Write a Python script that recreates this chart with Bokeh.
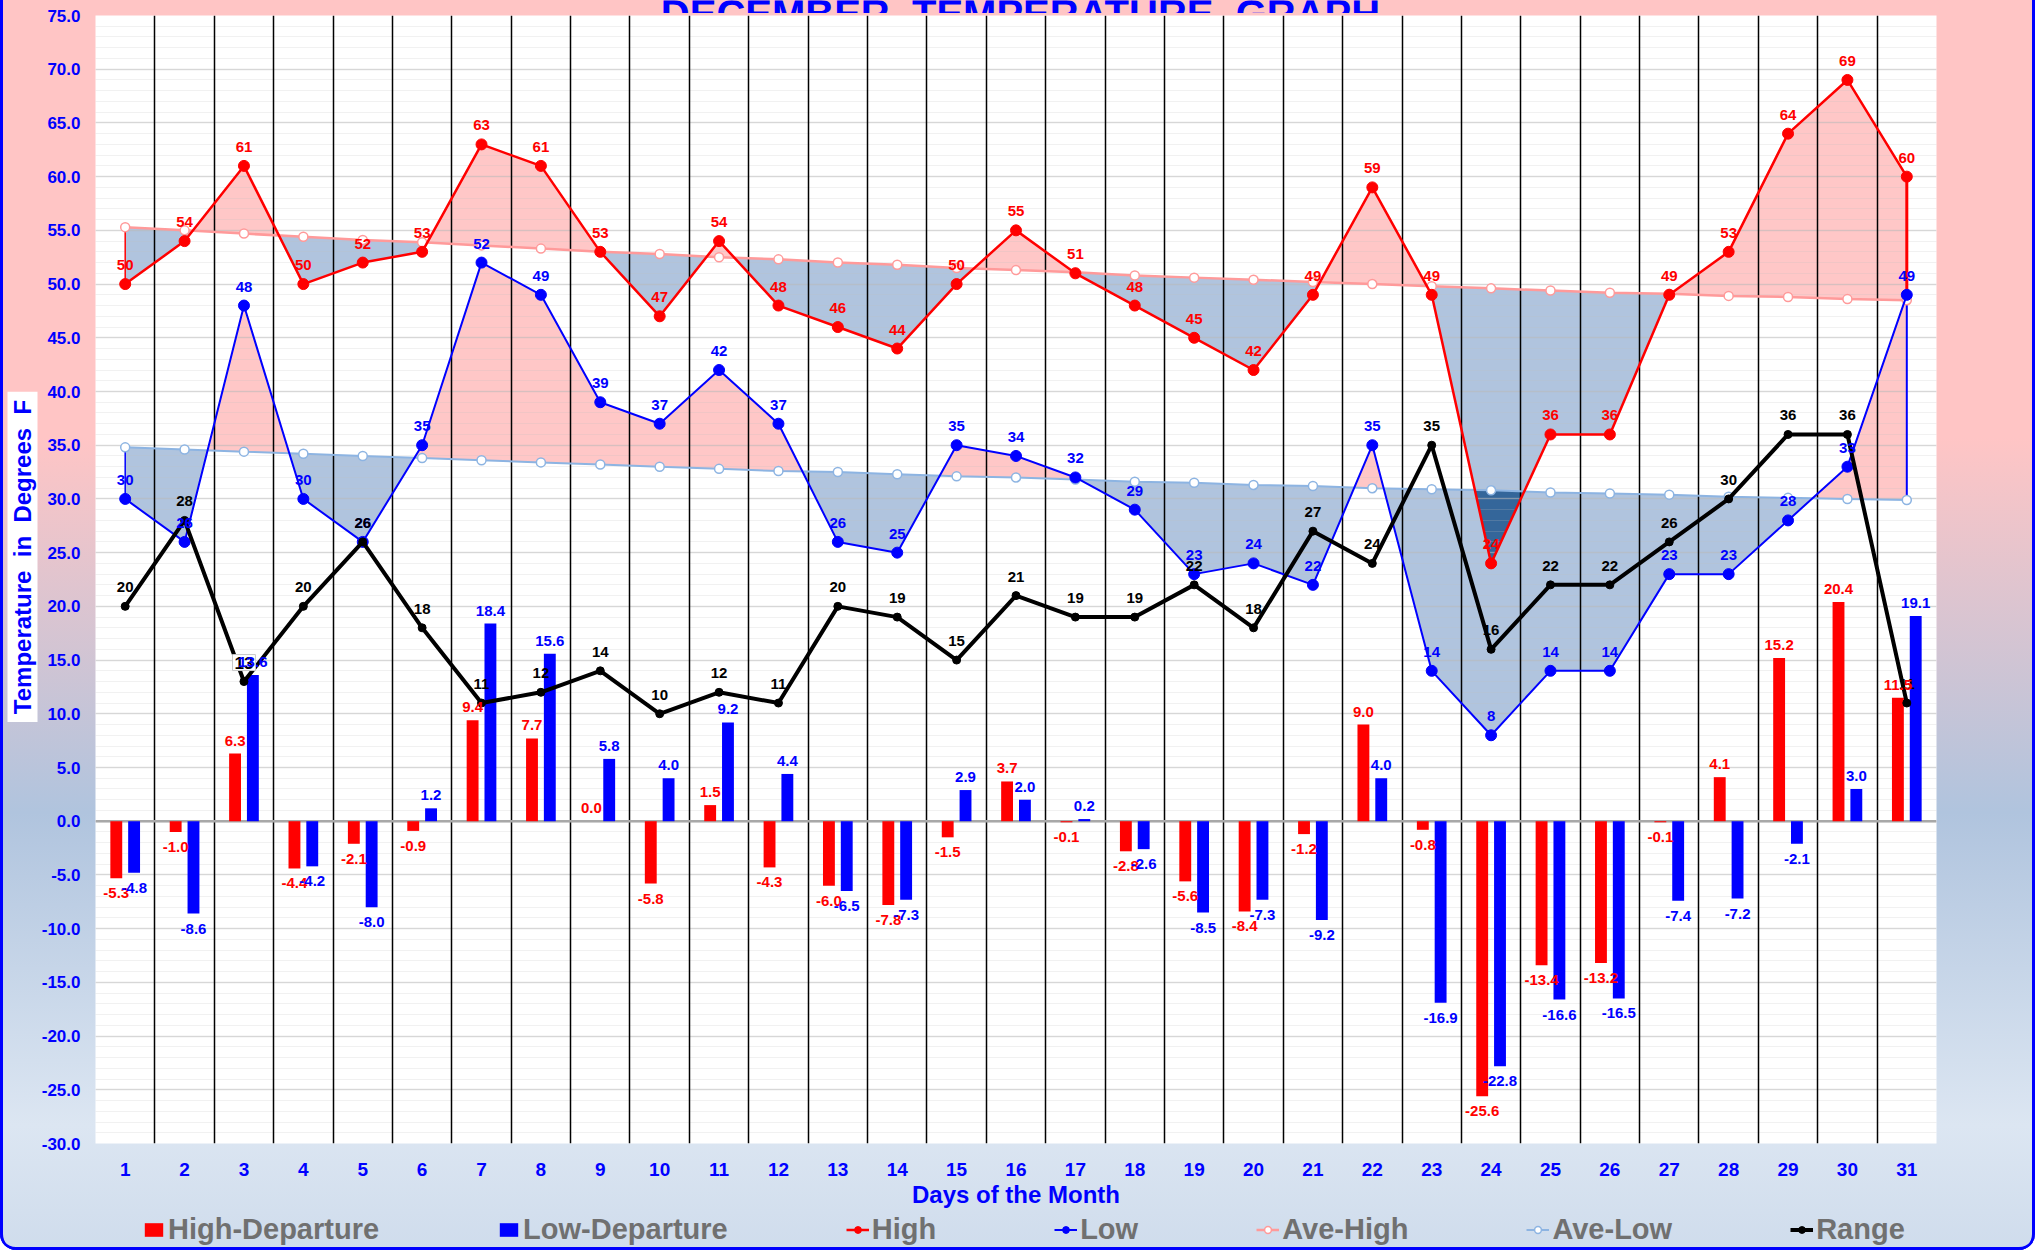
import numpy as np
from bokeh.plotting import figure
from bokeh.layouts import column
from bokeh.models import (ColumnDataSource, Legend, LegendItem, FixedTicker, Range1d,
                          SingleIntervalTicker, NumeralTickFormatter, Span)
from bokeh.core.properties import value
from bokeh.embed import file_html
from bokeh.resources import INLINE

# ---------------- data ----------------
days = list(range(1, 32))
high = [50, 54, 61, 50, 52, 53, 63, 61, 53, 47, 54, 48, 46, 44, 50, 55, 51, 48, 45, 42,
        49, 59, 49, 24, 36, 36, 49, 53, 64, 69, 60]
low = [30, 26, 48, 30, 26, 35, 52, 49, 39, 37, 42, 37, 26, 25, 35, 34, 32, 29, 23, 24,
       22, 35, 14, 8, 14, 14, 23, 23, 28, 33, 49]
ave_high = [55.3, 55.0, 54.7, 54.4, 54.1, 53.9, 53.6, 53.3, 53.0, 52.8, 52.5, 52.3, 52.0,
            51.8, 51.5, 51.3, 51.1, 50.8, 50.6, 50.4, 50.2, 50.0, 49.8, 49.6, 49.4, 49.2,
            49.1, 48.9, 48.8, 48.6, 48.5]
ave_low = [34.8, 34.6, 34.4, 34.2, 34.0, 33.8, 33.6, 33.4, 33.2, 33.0, 32.8, 32.6, 32.5,
           32.3, 32.1, 32.0, 31.8, 31.6, 31.5, 31.3, 31.2, 31.0, 30.9, 30.8, 30.6, 30.5,
           30.4, 30.2, 30.1, 30.0, 29.9]
temp_range = [20, 28, 13, 20, 26, 18, 11, 12, 14, 10, 12, 11, 20, 19, 15, 21, 19, 19, 22,
              18, 27, 24, 35, 16, 22, 22, 26, 30, 36, 36, 11]
high_dep = [-5.3, -1.0, 6.3, -4.4, -2.1, -0.9, 9.4, 7.7, 0.0, -5.8, 1.5, -4.3, -6.0, -7.8,
            -1.5, 3.7, -0.1, -2.8, -5.6, -8.4, -1.2, 9.0, -0.8, -25.6, -13.4, -13.2, -0.1,
            4.1, 15.2, 20.4, 11.5]
low_dep = [-4.8, -8.6, 13.6, -4.2, -8.0, 1.2, 18.4, 15.6, 5.8, 4.0, 9.2, 4.4, -6.5, -7.3,
           2.9, 2.0, 0.2, -2.6, -8.5, -7.3, -9.2, 4.0, -16.9, -22.8, -16.6, -16.5, -7.4,
           -7.2, -2.1, 3.0, 19.1]
y_ticks_step = 5
title_text = "DECEMBER \u00a0TEMPERATURE \u00a0GRAPH"
y_title = "Temperature \u00a0in \u00a0Degrees \u00a0F"
x_title = "Days of the Month"
legend_labels = ["High-Departure", "Low-Departure", "High", "Low", "Ave-High", "Ave-Low", "Range"]
boxed_range_day = 3

FONT = "Liberation Sans"
PINK = "#ffc7c7"
LBLUE = "#b0c4de"
DARK = "#34669a"
RED = "#ff0000"
BLUE = "#0000ff"
AH_COL = "#ff9a9a"
AL_COL = "#8db4e2"
TOTAL_W = 2035
TITLE_H = 13
FRAME_W = 1841
FRAME_H = 1128
TOP = 15
LEFT = 95
BOTTOM = 80
P_H = TOP + FRAME_H + BOTTOM
YBOX = (7, 391, 30, 331)      # left, top, width, height of the y-title box
LEG_TOP = 1210
LEG_H = 40
LEG_X = 142

d = np.array(days, float)
H = np.array(high, float)
AH = np.array(ave_high, float)
L = np.array(low, float)
AL = np.array(ave_low, float)

# breakpoints for the fills (data points plus line crossings)
series = [H, AH, L, AL]
xs = []
for i in range(len(d) - 1):
    xs.append(d[i])
    ts = []
    for a in range(4):
        for b in range(a + 1, 4):
            g0 = series[a][i] - series[b][i]
            g1 = series[a][i + 1] - series[b][i + 1]
            if g0 * g1 < 0:
                ts.append(g0 / (g0 - g1))
    for t in sorted(ts):
        xs.append(d[i] + t * (d[i + 1] - d[i]))
xs.append(d[-1])
xx = np.array(xs)
h = np.interp(xx, d, H)
ah = np.interp(xx, d, AH)
lo = np.interp(xx, d, L)
al = np.interp(xx, d, AL)

# ---------------- main chart ----------------
p = figure(frame_width=FRAME_W, frame_height=FRAME_H, min_border_left=LEFT,
           min_border_right=TOTAL_W - LEFT - FRAME_W,
           min_border_top=TOP, min_border_bottom=BOTTOM,
           x_range=(0.5, 31.5), y_range=(-30, 75),
           output_backend="svg", toolbar_location=None)
HAS_FA = "frame_align" in p.properties()
if HAS_FA:
    p.frame_align = False
p.background_fill_color = "white"
p.border_fill_color = None
p.outline_line_color = None
p.margin = (-TITLE_H, 0, 0, 0)

def strip(hgt):
    f = figure(width=TOTAL_W, height=hgt, x_range=Range1d(0, TOTAL_W), y_range=Range1d(0, hgt),
               min_border=0, x_axis_type=None, y_axis_type=None,
               output_backend="svg", toolbar_location=None)
    if HAS_FA:
        f.frame_align = False
    f.background_fill_color = None
    f.border_fill_color = None
    f.outline_line_color = None
    f.grid.visible = False
    return f

# ---------------- title strip (its top half is cut off, as in the original) ----------------
tfig = strip(TITLE_H)
tfig.text(x=[1020], y=[0], text=[title_text], text_font=value(FONT), text_font_style="bold",
          text_font_size="40px", text_color=BLUE, text_align="center",
          text_baseline="alphabetic")

fills = [
    (ah, np.maximum(h, ah), PINK),
    (np.minimum(h, ah), ah, LBLUE),
    (al, np.maximum(lo, al), PINK),
    (np.minimum(lo, al), al, LBLUE),
]
for y1, y2, c in fills:
    r = p.varea(x=xx, y1=y1, y2=y2, fill_color=c)
    r.level = "image"
ov_lo = np.maximum(np.minimum(h, ah), np.minimum(lo, al))
ov_hi = np.minimum(ah, al)
r = p.varea(x=xx, y1=ov_lo, y2=np.maximum(ov_lo, ov_hi), fill_color=DARK)
r.level = "image"

# grid: horizontal first, then the black day separators on top
p.ygrid.ticker = SingleIntervalTicker(interval=y_ticks_step, num_minor_ticks=5)
p.ygrid.grid_line_color = "#b8b8b8"
p.ygrid.grid_line_alpha = 0.45
p.ygrid.grid_line_width = 1.5
p.ygrid.minor_grid_line_color = "#c0c0c0"
p.ygrid.minor_grid_line_alpha = 0.22
p.xgrid.ticker = FixedTicker(ticks=[dd + 0.5 for dd in [0] + days])
p.xgrid.grid_line_color = "black"
p.xgrid.grid_line_width = 1.5
grids = [p.ygrid[0], p.xgrid[0]]
p.center = grids + [c for c in p.center if c not in grids]
zero = Span(location=0, dimension="width", line_color="#a8a8a8", line_width=2.5, level="underlay")
p.add_layout(zero)

# bars
src_b = ColumnDataSource(dict(xr=d - 0.15, xb=d + 0.15, hd=high_dep, ld=low_dep))
bar_styles = [dict(fill_color=RED, line_color=None), dict(fill_color=BLUE, line_color=None)]
p.vbar(x="xr", top="hd", bottom=0, width=0.2, source=src_b, **bar_styles[0])
p.vbar(x="xb", top="ld", bottom=0, width=0.2, source=src_b, **bar_styles[1])

# edges of the areas
p.segment(x0=[d[0]], y0=[H[0]], x1=[d[0]], y1=[AH[0]], line_color=RED, line_width=1.5)
p.segment(x0=[d[-1]], y0=[H[-1]], x1=[d[-1]], y1=[AH[-1]], line_color=RED, line_width=3)
p.segment(x0=[d[0]], y0=[L[0]], x1=[d[0]], y1=[AL[0]], line_color=BLUE, line_width=1.5)
p.segment(x0=[d[-1]], y0=[L[-1]], x1=[d[-1]], y1=[AL[-1]], line_color=BLUE, line_width=2)

# lines
line_styles = [
    (AH, dict(line_color=AH_COL, line_width=2.5), dict(size=9, fill_color="white", line_color=AH_COL, line_width=1.5)),
    (AL, dict(line_color=AL_COL, line_width=2), dict(size=9, fill_color="white", line_color=AL_COL, line_width=1.5)),
    (H, dict(line_color=RED, line_width=2.5), dict(size=11, fill_color=RED, line_color=RED)),
    (L, dict(line_color=BLUE, line_width=2), dict(size=11, fill_color=BLUE, line_color=BLUE)),
    (np.array(temp_range, float), dict(line_color="black", line_width=4), dict(size=8, fill_color="black", line_color="black")),
]
for yv, ls, ms in line_styles:
    p.line(d, yv, **ls)
    p.scatter(d, yv, **ms)

# data labels
lab = dict(text_font=value(FONT), text_font_style="bold", text_font_size="15px",
           text_align="center", text_baseline="middle")
p.text(x=d, y=H, text=[str(v) for v in high], text_color=RED, y_offset=-19, **lab)
p.text(x=d, y=L, text=[str(v) for v in low], text_color=BLUE, y_offset=-19, **lab)
rng_idx = [i for i in range(len(days)) if days[i] != boxed_range_day]
p.text(x=[d[i] for i in rng_idx], y=[temp_range[i] for i in rng_idx],
       text=[str(temp_range[i]) for i in rng_idx], text_color="black", y_offset=-19, **lab)
bi = days.index(boxed_range_day)
p.text(x=[d[bi]], y=[temp_range[bi]], text=[str(temp_range[bi])], text_color="black",
       y_offset=-19, background_fill_color="white", border_line_color="#c8c8c8",
       padding=2, **{**lab, "text_font_size": "17px"})

def bar_labels(xv, vals, color):
    src = ColumnDataSource(dict(x=list(xv), y=vals, t=[f"{v:.1f}" for v in vals],
                                off=[-13 if v >= 0 else 15 for v in vals]))
    p.text(x="x", y="y", text="t", y_offset="off", text_color=color, source=src, **lab)

bar_labels(d - 0.15, high_dep, RED)
bar_labels(d + 0.15, low_dep, BLUE)

# axes
p.xaxis.ticker = FixedTicker(ticks=days)
p.xaxis.axis_label = x_title
p.xaxis.axis_label_standoff = 2
p.yaxis.ticker = SingleIntervalTicker(interval=y_ticks_step)
p.yaxis.formatter = NumeralTickFormatter(format="0.0")
for ax in (p.xaxis, p.yaxis):
    ax.axis_line_color = None
    ax.major_tick_line_color = None
    ax.minor_tick_line_color = None
    ax.major_tick_out = 0
    ax.major_tick_in = 0
    ax.minor_tick_out = 0
    ax.minor_tick_in = 0
    ax.major_label_text_font = FONT
    ax.major_label_text_font_style = "bold"
    ax.major_label_text_color = BLUE
    ax.axis_label_text_font = FONT
    ax.axis_label_text_font_style = "bold"
    ax.axis_label_text_font_size = "24px"
    ax.axis_label_text_color = BLUE
p.xaxis.major_label_text_font_size = "19px"
p.xaxis.major_label_standoff = 19
p.yaxis.major_label_text_font_size = "17px"
p.yaxis.major_label_standoff = 15

children = [tfig, p]

# ---------------- y title (white box with rotated title) ----------------
if HAS_FA:
    yfig = strip(YBOX[3])
    yfig.margin = (YBOX[1] - P_H, 0, 0, 0)
    ycx = YBOX[0] + YBOX[2] / 2
    yfig.rect(x=[ycx], y=[YBOX[3] / 2], width=YBOX[2], height=YBOX[3], fill_color="white", line_color=None)
    yfig.text(x=[ycx], y=[YBOX[3] / 2], text=[y_title], angle=np.pi / 2, text_font=value(FONT),
              text_font_style="bold", text_font_size="24px", text_color=BLUE,
              text_align="center", text_baseline="middle")
    children.append(yfig)
    leg_gap = LEG_TOP - YBOX[1] - YBOX[3]
    leg_x = LEG_X
else:
    p.yaxis.axis_label = y_title
    p.yaxis.axis_label_standoff = 5
    leg_gap = LEG_TOP - P_H
    leg_x = LEG_X - LEFT

# ---------------- legend strip ----------------
lfig = strip(LEG_H)
lfig.margin = (leg_gap, 0, 0, 0)
hid = dict(x=[-100], y=[-100])   # keys sit outside the strip's range; only the legend shows them
keys = [[lfig.vbar(x=[-100], top=[-100], width=1, **bs)] for bs in bar_styles]
for _, ls, ms in [line_styles[2], line_styles[3], line_styles[0], line_styles[1], line_styles[4]]:
    keys.append([lfig.line(**hid, **ls), lfig.scatter(**hid, **ms)])
legend = Legend(items=[LegendItem(label=lb, renderers=rr) for lb, rr in zip(legend_labels, keys)],
                orientation="horizontal", location=(leg_x, 4))
legend.label_text_font = FONT
legend.label_text_font_style = "bold"
legend.label_text_font_size = "29px"
legend.label_text_color = "#707070"
legend.label_height = 20
legend.glyph_width = 23
legend.glyph_height = 17
legend.label_standoff = 3
legend.spacing = 118
legend.padding = 0
legend.margin = 0
legend.background_fill_alpha = 0
legend.border_line_color = None
lfig.add_layout(legend, "center")
children.append(lfig)

layout = column(*children, spacing=0)
layout.styles = {
    "background": "linear-gradient(to bottom, #ffc5c5 0%, #ffc5c5 35%, #b0c4de 65%, #dce6f2 90%, #cfdcec 100%)",
    "box-shadow": "inset 3px 0 0 0 #0000ff, inset -3px 0 0 0 #0000ff, inset 0 -3px 0 0 #0000ff",
    "border-radius": "0 0 16px 16px",
}

open("out.html", "w").write(file_html(layout, INLINE))
